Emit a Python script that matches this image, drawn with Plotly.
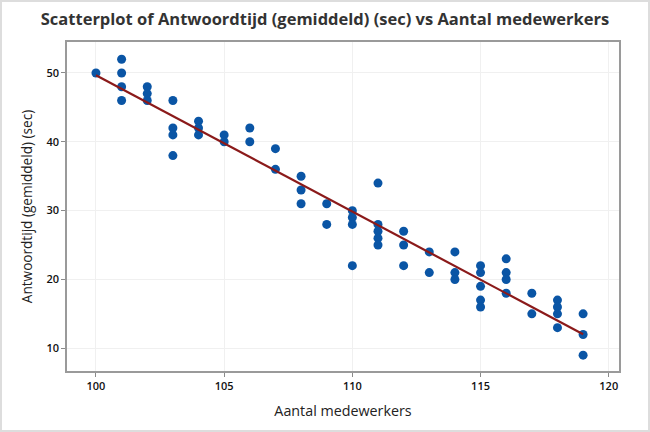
import numpy as np
import plotly.graph_objects as go

# Aantal medewerkers vs gemiddelde antwoordtijd (sec)
medewerkers = [100,
               101, 101, 101, 101,
               102, 102, 102,
               103, 103, 103, 103,
               104, 104, 104,
               105, 105,
               106, 106,
               107, 107,
               108, 108, 108,
               109, 109,
               110, 110, 110, 110,
               111, 111, 111, 111, 111,
               112, 112, 112,
               113, 113,
               114, 114, 114,
               115, 115, 115, 115, 115,
               116, 116, 116, 116,
               117, 117,
               118, 118, 118, 118,
               119, 119, 119]
antwoordtijd = [50,
                52, 50, 48, 46,
                48, 47, 46,
                46, 42, 41, 38,
                43, 42, 41,
                41, 40,
                42, 40,
                39, 36,
                35, 33, 31,
                31, 28,
                30, 29, 28, 22,
                34, 28, 27, 26, 25,
                27, 25, 22,
                24, 21,
                24, 21, 20,
                22, 21, 19, 17, 16,
                23, 21, 20, 18,
                18, 15,
                17, 16, 15, 13,
                15, 12, 9]

xticks = [100, 105, 110, 115, 120]
yticks = [10, 20, 30, 40, 50]

# fitted regression line
slope, intercept = np.polyfit(medewerkers, antwoordtijd, 1)
fit_x = [min(medewerkers), max(medewerkers)]
fit_y = [slope * v + intercept for v in fit_x]

points = go.Scatter(
    x=medewerkers, y=antwoordtijd, mode='markers',
    marker=dict(color='#0a55a5', size=9),
    hoverinfo='x+y'
)

fit_line = go.Scatter(
    x=fit_x, y=fit_y, mode='lines',
    line=dict(color='#8b1a1a', width=2.2)
)

axis_style = dict(
    showline=True, linecolor='#9a9a9a', linewidth=1.5, mirror=True,
    showgrid=True, gridcolor='#f0f0f0', gridwidth=1,
    ticks='outside', ticklen=4, tickcolor='#8a8a8a',
    tickfont=dict(family='Open Sans', size=11, color='#111111', weight=600),
    zeroline=False
)

layout = go.Layout(
    title=dict(text='<b>Scatterplot of Antwoordtijd (gemiddeld) (sec) vs Aantal medewerkers</b>',
               x=0.5, xanchor='center', y=0.955, yanchor='middle',
               font=dict(family='Open Sans', size=16.5, color='#333333')),
    xaxis=dict(title=dict(text='Aantal medewerkers', standoff=14,
                          font=dict(family='Open Sans', size=14.3, color='#222222')),
               range=[98.87, 120.4], tickvals=xticks, **axis_style),
    yaxis=dict(title=dict(text='Antwoordtijd (gemiddeld) (sec)', standoff=11,
                          font=dict(family='Open Sans', size=13.6, color='#222222')),
               range=[6.7, 54.5], tickvals=yticks, **axis_style),
    showlegend=False,
    plot_bgcolor='white',
    paper_bgcolor='white',
    margin=dict(l=67, r=31, t=42, b=61),
    width=650,
    height=432,
    shapes=[dict(type='rect', xref='paper', yref='paper',
                 x0=-66 / 552, x1=1 + 30 / 552, y0=-60 / 329, y1=1 + 41 / 329,
                 line=dict(color='#dddddd', width=2))]
)

fig = go.Figure(data=[points, fit_line], layout=layout)
# drop the default page margin so the chart sits at the window's top-left
fig.write_html("out.html", config={'displayModeBar': False},
               post_script="document.body.style.margin='0';")
